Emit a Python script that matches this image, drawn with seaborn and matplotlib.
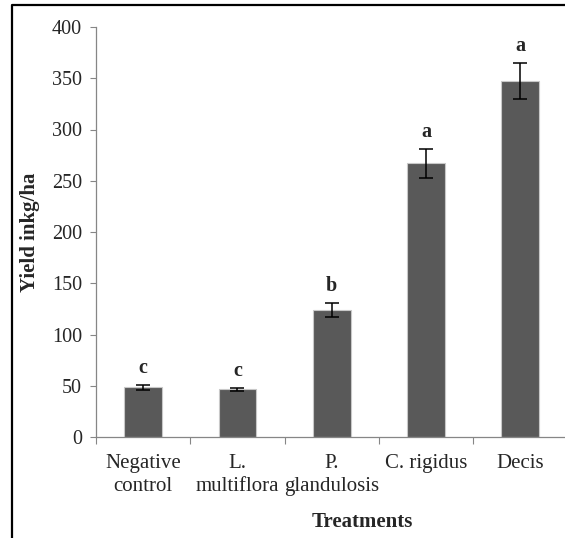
import numpy as np
import pandas as pd
import seaborn as sns
import matplotlib.pyplot as plt
from matplotlib.lines import Line2D

# values
treatments = ['Negative\ncontrol', 'L.\nmultiflora', 'P.\nglandulosis', 'C. rigidus', 'Decis']
yield_mean = [48.5, 46.5, 124, 267, 347.5]
yield_err = [2.6, 1.6, 6.5, 14, 17.5]
letters = ['c', 'c', 'b', 'a', 'a']

df = pd.DataFrame({'Treatment': treatments, 'Yield': yield_mean, 'Err': yield_err})

sns.set_style('white')
plt.rcParams['font.family'] = ['Liberation Serif', 'DejaVu Serif']

fig = plt.figure(figsize=(5.65, 5.38), dpi=100)
ax = fig.add_axes([96 / 565, 101 / 538, 471.5 / 565, 410 / 538])

sns.barplot(data=df, x='Treatment', y='Yield', color='#595959', saturation=1,
            width=0.4, edgecolor='#c8c8c8', linewidth=0.8, errorbar=None, ax=ax)
ax.errorbar(np.arange(len(treatments)), df['Yield'], yerr=df['Err'], fmt='none',
            ecolor='black', elinewidth=1.1, capsize=5, capthick=1.1)

for i, (m, e, l) in enumerate(zip(yield_mean, yield_err, letters)):
    ax.annotate(l, (i, m + e), xytext=(0, 5), textcoords='offset points',
                ha='center', va='bottom', fontsize=14.5, fontweight='bold')

ax.set_ylim(0, 400)
ax.set_xlim(-0.5, 4.5)
ax.set_yticks(range(0, 401, 50))
ax.tick_params(axis='y', labelsize=14.5, length=4, width=0.8, color='#868686',
               direction='out', left=True, pad=6)
# x ticks sit between the categories
ax.set_xticks(np.arange(-0.5, 5, 1), minor=True)
ax.tick_params(axis='x', which='minor', length=5, width=0.8, color='#868686', bottom=True)
ax.tick_params(axis='x', which='major', length=0, labelsize=15, pad=12)
for t in ax.get_xticklabels():
    t.set_linespacing(1.3)

for s in ['top', 'right']:
    ax.spines[s].set_visible(False)
for s in ['left', 'bottom']:
    ax.spines[s].set_color('#868686')
    ax.spines[s].set_linewidth(0.9)

ax.set_xlabel('Treatments', fontsize=15, fontweight='bold')
ax.xaxis.set_label_coords((362 - 96) / 471.5, -(522 - 437) / 410)
ax.xaxis.label.set_va('center')
ax.set_ylabel('Yield inkg/ha', fontsize=15, fontweight='bold')
ax.yaxis.set_label_coords(-(96 - 30) / 471.5, 0.5)
ax.yaxis.label.set_va('center')

# outer frame, only top and left edges are inside the crop
fig.add_artist(Line2D([12 / 565, 12 / 565, 1.0], [0.0, 1 - 5 / 538, 1 - 5 / 538],
                      transform=fig.transFigure, color='black', linewidth=1.6))

fig.savefig('out.png', dpi=100)
